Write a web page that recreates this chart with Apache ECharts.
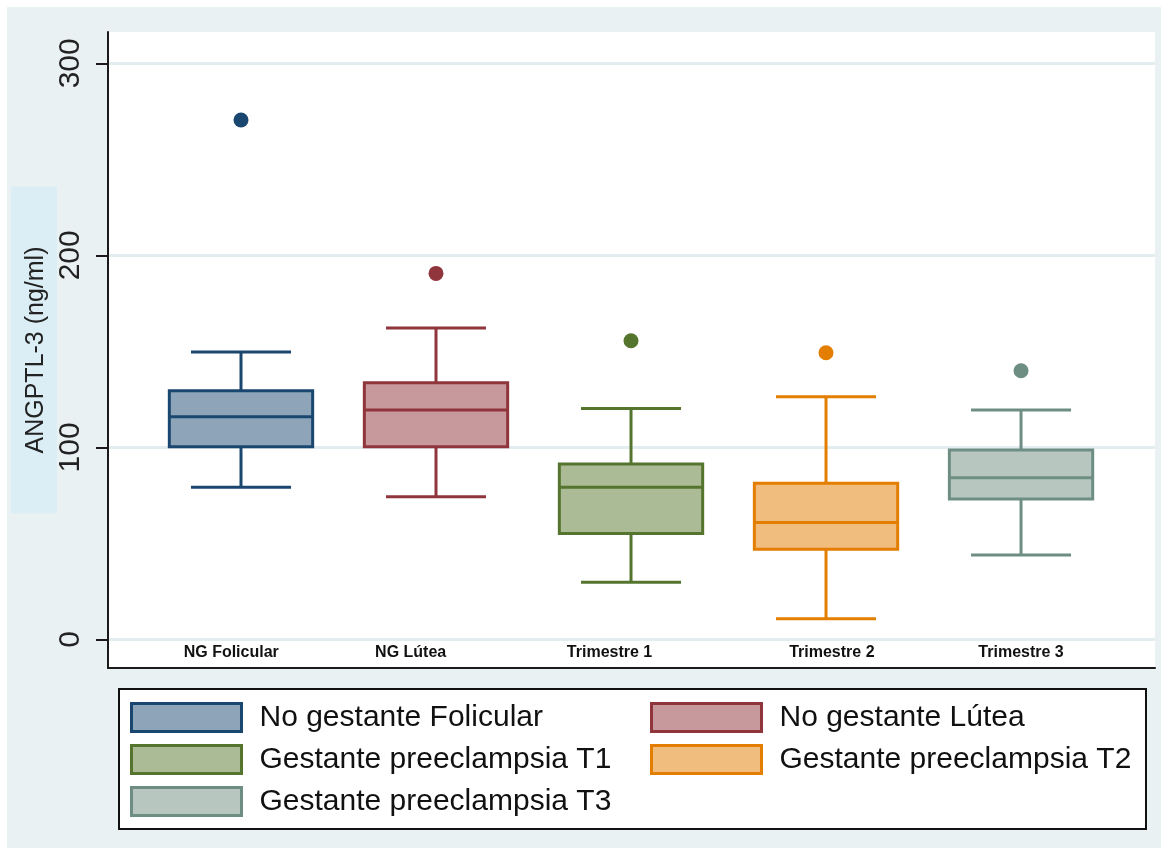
<!DOCTYPE html>
<html>
<head>
<meta charset="utf-8">
<script src="https://cdn.jsdelivr.net/npm/echarts@6/dist/echarts.min.js"></script>
<style>
  html, body { margin: 0; padding: 0; background: #ffffff; width: 1161px; height: 848px; overflow: hidden; }
  #chart { position: absolute; left: 7px; top: 7px; width: 1154px; height: 841px; }
</style>
</head>
<body>
<div id="chart"></div>
<script>
// ---- data ----
const categories = ['NG Folicular', 'NG Lútea', 'Trimestre 1', 'Trimestre 2', 'Trimestre 3'];
const seriesNames = ['No gestante Folicular', 'No gestante Lútea', 'Gestante preeclampsia T1', 'Gestante preeclampsia T2', 'Gestante preeclampsia T3'];
const lowWhisker  = [79.2, 74.3, 29.7, 10.7, 43.9];
const q1          = [100.3, 100.3, 55.2, 47.0, 73.1];
const median      = [115.9, 119.4, 79.2, 60.9, 84.2];
const q3          = [129.5, 133.6, 91.3, 81.3, 98.6];
const highWhisker = [149.6, 162.1, 120.3, 126.4, 119.4];
const outliers    = [270.5, 190.6, 155.5, 149.3, 139.9];
const yTicks      = [0, 100, 200, 300];
const xLabelAt    = [0.95, 1.87, 2.89, 4.03, 5.0];

// ---- styles ----
const lineColors = ['#1a476f', '#90353b', '#55752f', '#e37e00', '#6e8e84'];
const fillColors = ['#8ea4b9', '#c8999c', '#abbb95', '#f0bd7f', '#b7c7c0'];

function renderBox(params, api) {
  const x = api.value(0);
  const lo = api.value(1), a = api.value(2), m = api.value(3), b = api.value(4), hi = api.value(5);
  const unit = api.size([1, 0])[0];
  const bw = unit * 0.735;
  const cw = unit * 0.513;
  const pLo = api.coord([x, lo]);
  const pA = api.coord([x, a]);
  const pM = api.coord([x, m]);
  const pB = api.coord([x, b]);
  const pHi = api.coord([x, hi]);
  const cx = pM[0];
  const idx = params.seriesIndex;
  const stroke = lineColors[idx];
  const lw = 3;
  const ls = { stroke: stroke, lineWidth: lw, fill: null };
  return {
    type: 'group',
    children: [
      { type: 'line', shape: { x1: cx, y1: pHi[1], x2: cx, y2: pB[1] }, style: ls },
      { type: 'line', shape: { x1: cx, y1: pA[1], x2: cx, y2: pLo[1] }, style: ls },
      { type: 'line', shape: { x1: cx - cw / 2, y1: pHi[1], x2: cx + cw / 2, y2: pHi[1] }, style: ls },
      { type: 'line', shape: { x1: cx - cw / 2, y1: pLo[1], x2: cx + cw / 2, y2: pLo[1] }, style: ls },
      { type: 'rect', shape: { x: cx - bw / 2, y: pB[1], width: bw, height: pA[1] - pB[1] },
        style: { fill: fillColors[idx], stroke: stroke, lineWidth: lw } },
      { type: 'line', shape: { x1: cx - bw / 2, y1: pM[1], x2: cx + bw / 2, y2: pM[1] }, style: ls }
    ]
  };
}

const series = [];
seriesNames.forEach(function (name, i) {
  series.push({
    name: name,
    type: 'custom',
    renderItem: renderBox,
    encode: { x: 0, y: [1, 2, 3, 4, 5] },
    itemStyle: { color: fillColors[i], borderColor: lineColors[i] },
    data: [[i + 1, lowWhisker[i], q1[i], median[i], q3[i], highWhisker[i]]],
    z: 3
  });
});
seriesNames.forEach(function (name, i) {
  series.push({
    name: name,
    type: 'scatter',
    symbol: 'circle',
    symbolSize: 15,
    itemStyle: { color: lineColors[i], opacity: 1 },
    data: [[i + 1, outliers[i]]],
    z: 4
  });
});

function legendItems(list) {
  return list.map(function (i) {
    return { name: seriesNames[i], icon: 'rect',
             itemStyle: { color: fillColors[i], borderColor: lineColors[i], borderWidth: 3 } };
  });
}
const legendText = { fontFamily: 'Liberation Sans, Arial, sans-serif', fontSize: 30, color: '#111', padding: [0, 0, 0, 13] };

const chart = echarts.init(document.getElementById('chart'), null, { renderer: 'canvas' });
chart.setOption({
  backgroundColor: '#eaf1f3',
  animation: false,
  grid: { left: 101, top: 25, width: 1047, height: 636, show: true, backgroundColor: '#ffffff', borderWidth: 0,
          containLabel: false, outerBoundsMode: 'none' },
  graphic: [
    { type: 'rect', left: 111, top: 681, z: 0,
      shape: { width: 1027, height: 140 },
      style: { fill: '#ffffff', stroke: '#111111', lineWidth: 2 } }
  ],
  legend: [
    { orient: 'vertical', left: 123, top: 695, itemWidth: 110, itemHeight: 28, itemGap: 11, padding: 0,
      selectedMode: false, textStyle: legendText, data: legendItems([0, 2, 4]) },
    { orient: 'vertical', left: 643, top: 695, itemWidth: 110, itemHeight: 28, itemGap: 11, padding: 0,
      selectedMode: false, textStyle: legendText, data: legendItems([1, 3]) }
  ],
  xAxis: {
    type: 'value', min: 0.318, max: 5.687,
    axisLine: { show: true, onZero: false, lineStyle: { color: '#1a1a1a', width: 2 } },
    axisTick: { show: false },
    splitLine: { show: false },
    axisLabel: {
      inside: true, margin: 7,
      customValues: xLabelAt,
      formatter: function (v) {
        let best = 0;
        for (let k = 1; k < xLabelAt.length; k++) {
          if (Math.abs(xLabelAt[k] - v) < Math.abs(xLabelAt[best] - v)) best = k;
        }
        return categories[best];
      },
      fontFamily: 'Liberation Sans Narrow, Liberation Sans, Arial, sans-serif',
      fontWeight: 'bold', fontSize: 16, color: '#111'
    }
  },
  yAxis: {
    type: 'value', min: -14.9, max: 316.3,
    name: 'ANGPTL-3 (ng/ml)', nameLocation: 'middle', nameRotate: 90, nameGap: 51, nameMoveOverlap: false,
    nameTextStyle: { fontFamily: 'Liberation Sans, Arial, sans-serif', fontSize: 25, color: '#222',
                     backgroundColor: '#dbeef5', padding: [10, 60, 6, 60], lineHeight: 30 },
    axisLine: { show: true, lineStyle: { color: '#1a1a1a', width: 2 } },
    axisTick: { show: true, length: 12, customValues: yTicks, lineStyle: { color: '#1a1a1a', width: 2 } },
    splitLine: { show: true, lineStyle: { color: '#e3ecef', width: 3 } },
    axisLabel: { customValues: yTicks, rotate: 90, margin: 22,
                 fontFamily: 'Liberation Sans, Arial, sans-serif', fontSize: 30, color: '#222' }
  },
  series: series
});
</script>
</body>
</html>
